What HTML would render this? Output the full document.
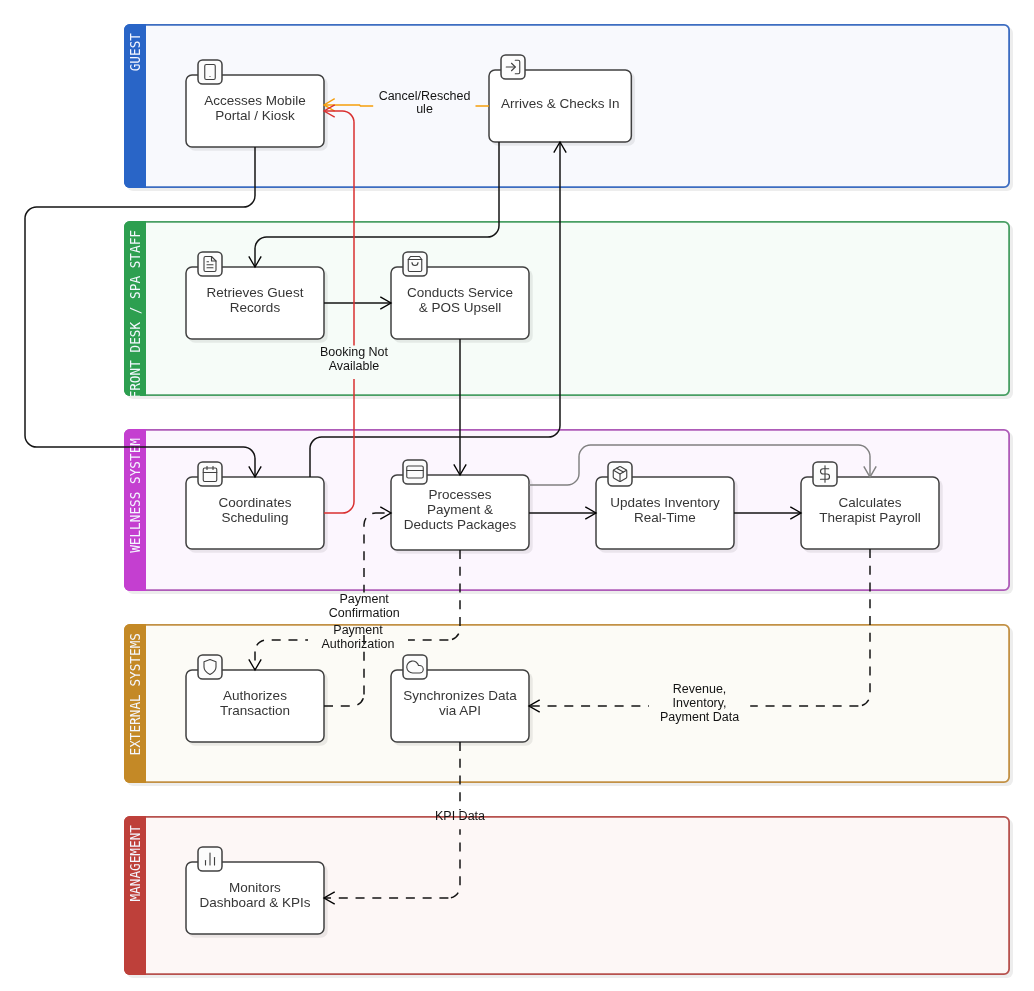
<!DOCTYPE html>
<html lang="en"><head><meta charset="utf-8"><title>Spa Wellness Workflow</title>
<style>
html,body{margin:0;padding:0;background:#fff;}
body{width:1034px;height:991px;overflow:hidden;}
svg{display:block;will-change:transform;}
.nt{font-family:"Liberation Sans",Arial,Helvetica,sans-serif;font-size:13.5px;fill:#363636;text-anchor:middle;}
.el{font-family:"Liberation Sans",Arial,Helvetica,sans-serif;font-size:12.5px;fill:#131313;text-anchor:middle;}
.lh{font-family:"DejaVu Sans Mono","Liberation Mono",monospace;font-size:14.2px;fill:#f4f7ff;text-anchor:end;}
.e{fill:none;stroke:#141414;stroke-width:1.5;}
.d{stroke-dasharray:9 7.77;}
</style></head><body>
<svg width="1034" height="991" viewBox="0 0 1034 991">
<defs>
<clipPath id="lc0"><rect x="124" y="24" width="22" height="164"/></clipPath>
<clipPath id="lc1"><rect x="124" y="221" width="22" height="175"/></clipPath>
<clipPath id="lc2"><rect x="124" y="429" width="22" height="162"/></clipPath>
<clipPath id="lc3"><rect x="124" y="624" width="22" height="159"/></clipPath>
<clipPath id="lc4"><rect x="124" y="816" width="22" height="159"/></clipPath>
</defs>
<g>
<rect x="127" y="27" width="886" height="164" rx="6" fill="#000" fill-opacity="0.07"/>
<rect x="124.9" y="24.9" width="884.2" height="162.2" rx="5.1" fill="#f8f9fd" stroke="#3d6dc1" stroke-width="1.8"/>
<path d="M146,24 H130 A6,6 0 0 0 124,30 V182 A6,6 0 0 0 130,188 H146 Z" fill="#2965c7"/>
</g>
<g>
<rect x="127" y="224" width="886" height="175" rx="6" fill="#000" fill-opacity="0.07"/>
<rect x="124.9" y="221.9" width="884.2" height="173.2" rx="5.1" fill="#f6fcf8" stroke="#499f64" stroke-width="1.8"/>
<path d="M146,221 H130 A6,6 0 0 0 124,227 V390 A6,6 0 0 0 130,396 H146 Z" fill="#2d9f50"/>
</g>
<g>
<rect x="127" y="432" width="886" height="162" rx="6" fill="#000" fill-opacity="0.07"/>
<rect x="124.9" y="429.9" width="884.2" height="160.2" rx="5.1" fill="#fcf6fe" stroke="#ae5bb8" stroke-width="1.8"/>
<path d="M146,429 H130 A6,6 0 0 0 124,435 V585 A6,6 0 0 0 130,591 H146 Z" fill="#c43fd0"/>
</g>
<g>
<rect x="127" y="627" width="886" height="159" rx="6" fill="#000" fill-opacity="0.07"/>
<rect x="124.9" y="624.9" width="884.2" height="157.2" rx="5.1" fill="#fcfbf6" stroke="#c29145" stroke-width="1.8"/>
<path d="M146,624 H130 A6,6 0 0 0 124,630 V777 A6,6 0 0 0 130,783 H146 Z" fill="#c48926"/>
</g>
<g>
<rect x="127" y="819" width="886" height="159" rx="6" fill="#000" fill-opacity="0.07"/>
<rect x="124.9" y="816.9" width="884.2" height="157.2" rx="5.1" fill="#fdf7f6" stroke="#b7524e" stroke-width="1.8"/>
<path d="M146,816 H130 A6,6 0 0 0 124,822 V969 A6,6 0 0 0 130,975 H146 Z" fill="#be403a"/>
</g>
<g clip-path="url(#lc0)"><text class="lh" transform="translate(140.3,33) rotate(-90) scale(0.897,1)">GUEST</text></g>
<g clip-path="url(#lc1)"><text class="lh" transform="translate(140.3,230) rotate(-90) scale(0.897,1)">FRONT DESK / SPA STAFF</text></g>
<g clip-path="url(#lc2)"><text class="lh" transform="translate(140.3,438) rotate(-90) scale(0.897,1)">WELLNESS SYSTEM</text></g>
<g clip-path="url(#lc3)"><text class="lh" transform="translate(140.3,633) rotate(-90) scale(0.897,1)">EXTERNAL SYSTEMS</text></g>
<g clip-path="url(#lc4)"><text class="lh" transform="translate(140.3,825) rotate(-90) scale(0.897,1)">MANAGEMENT</text></g>
<g>
<rect x="188.25" y="77.25" width="139.5" height="73.5" rx="6.75" fill="#000" fill-opacity="0.07"/>
<rect x="186" y="75" width="138" height="72" rx="6" fill="#fff" stroke="#404040" stroke-width="1.5"/>
<rect x="198" y="60" width="24" height="24" rx="4.6" fill="#fcfcfc" stroke="#404040" stroke-width="1.5"/>
<g transform="translate(201.00,63.00) scale(0.75)" fill="none" stroke="#404040" stroke-width="1.5" stroke-linecap="round" stroke-linejoin="round"><rect x="5" y="2" width="14" height="20" rx="2" ry="2"/><path d="M12 18h.01"/></g>
<text class="nt" x="255.00" y="105.33">Accesses Mobile</text>
<text class="nt" x="255.00" y="120.33">Portal / Kiosk</text>
</g>
<g>
<rect x="491.25" y="72.25" width="143.85" height="73.5" rx="6.75" fill="#000" fill-opacity="0.07"/>
<rect x="489" y="70" width="142.35" height="72" rx="6" fill="#fff" stroke="#404040" stroke-width="1.5"/>
<rect x="501" y="55" width="24" height="24" rx="4.6" fill="#fcfcfc" stroke="#404040" stroke-width="1.5"/>
<g transform="translate(504.00,58.00) scale(0.75)" fill="none" stroke="#404040" stroke-width="1.5" stroke-linecap="round" stroke-linejoin="round"><path d="M15 3h4a2 2 0 0 1 2 2v14a2 2 0 0 1-2 2h-4"/><path d="M10 17l5-5-5-5"/><path d="M15 12H3"/></g>
<text class="nt" x="560.17" y="107.83">Arrives &amp; Checks In</text>
</g>
<g>
<rect x="188.25" y="269.25" width="139.5" height="73.5" rx="6.75" fill="#000" fill-opacity="0.07"/>
<rect x="186" y="267" width="138" height="72" rx="6" fill="#fff" stroke="#404040" stroke-width="1.5"/>
<rect x="198" y="252" width="24" height="24" rx="4.6" fill="#fcfcfc" stroke="#404040" stroke-width="1.5"/>
<g transform="translate(201.00,255.00) scale(0.75)" fill="none" stroke="#404040" stroke-width="1.5" stroke-linecap="round" stroke-linejoin="round"><path d="M14 2H6a2 2 0 0 0-2 2v16a2 2 0 0 0 2 2h12a2 2 0 0 0 2-2V8z"/><path d="M14 2v6h6"/><path d="M16 13H8"/><path d="M16 17H8"/><path d="M10 9H8"/></g>
<text class="nt" x="255.00" y="297.33">Retrieves Guest</text>
<text class="nt" x="255.00" y="312.33">Records</text>
</g>
<g>
<rect x="393.25" y="269.25" width="139.5" height="73.5" rx="6.75" fill="#000" fill-opacity="0.07"/>
<rect x="391" y="267" width="138" height="72" rx="6" fill="#fff" stroke="#404040" stroke-width="1.5"/>
<rect x="403" y="252" width="24" height="24" rx="4.6" fill="#fcfcfc" stroke="#404040" stroke-width="1.5"/>
<g transform="translate(406.00,255.00) scale(0.75)" fill="none" stroke="#404040" stroke-width="1.5" stroke-linecap="round" stroke-linejoin="round"><path d="M6 2L3 6v14a2 2 0 0 0 2 2h14a2 2 0 0 0 2-2V6l-3-4z"/><path d="M3 6h18"/><path d="M16 10a4 4 0 0 1-8 0"/></g>
<text class="nt" x="460.00" y="297.33">Conducts Service</text>
<text class="nt" x="460.00" y="312.33">&amp; POS Upsell</text>
</g>
<g>
<rect x="188.25" y="479.25" width="139.5" height="73.5" rx="6.75" fill="#000" fill-opacity="0.07"/>
<rect x="186" y="477" width="138" height="72" rx="6" fill="#fff" stroke="#404040" stroke-width="1.5"/>
<rect x="198" y="462" width="24" height="24" rx="4.6" fill="#fcfcfc" stroke="#404040" stroke-width="1.5"/>
<g transform="translate(201.00,465.00) scale(0.75)" fill="none" stroke="#404040" stroke-width="1.5" stroke-linecap="round" stroke-linejoin="round"><rect x="3" y="4" width="18" height="18" rx="2" ry="2"/><path d="M16 2v4"/><path d="M8 2v4"/><path d="M3 10h18"/></g>
<text class="nt" x="255.00" y="507.33">Coordinates</text>
<text class="nt" x="255.00" y="522.33">Scheduling</text>
</g>
<g>
<rect x="393.25" y="477.25" width="139.5" height="76.5" rx="6.75" fill="#000" fill-opacity="0.07"/>
<rect x="391" y="475" width="138" height="75" rx="6" fill="#fff" stroke="#404040" stroke-width="1.5"/>
<rect x="403" y="460" width="24" height="24" rx="4.6" fill="#fcfcfc" stroke="#404040" stroke-width="1.5"/>
<g transform="translate(406.00,463.00) scale(0.75)" fill="none" stroke="#404040" stroke-width="1.5" stroke-linecap="round" stroke-linejoin="round"><rect x="1" y="4" width="22" height="16" rx="2" ry="2"/><path d="M1 10h22"/></g>
<text class="nt" x="460.00" y="499.33">Processes</text>
<text class="nt" x="460.00" y="514.33">Payment &amp;</text>
<text class="nt" x="460.00" y="529.33">Deducts Packages</text>
</g>
<g>
<rect x="598.25" y="479.25" width="139.5" height="73.5" rx="6.75" fill="#000" fill-opacity="0.07"/>
<rect x="596" y="477" width="138" height="72" rx="6" fill="#fff" stroke="#404040" stroke-width="1.5"/>
<rect x="608" y="462" width="24" height="24" rx="4.6" fill="#fcfcfc" stroke="#404040" stroke-width="1.5"/>
<g transform="translate(611.00,465.00) scale(0.75)" fill="none" stroke="#404040" stroke-width="1.5" stroke-linecap="round" stroke-linejoin="round"><path d="M16.5 9.4l-9-5.19"/><path d="M21 16V8a2 2 0 0 0-1-1.73l-7-4a2 2 0 0 0-2 0l-7 4A2 2 0 0 0 3 8v8a2 2 0 0 0 1 1.73l7 4a2 2 0 0 0 2 0l7-4A2 2 0 0 0 21 16z"/><path d="M3.27 6.96L12 12.01l8.73-5.05"/><path d="M12 22.08V12"/></g>
<text class="nt" x="665.00" y="507.33">Updates Inventory</text>
<text class="nt" x="665.00" y="522.33">Real-Time</text>
</g>
<g>
<rect x="803.25" y="479.25" width="139.5" height="73.5" rx="6.75" fill="#000" fill-opacity="0.07"/>
<rect x="801" y="477" width="138" height="72" rx="6" fill="#fff" stroke="#404040" stroke-width="1.5"/>
<rect x="813" y="462" width="24" height="24" rx="4.6" fill="#fcfcfc" stroke="#404040" stroke-width="1.5"/>
<g transform="translate(816.00,465.00) scale(0.75)" fill="none" stroke="#404040" stroke-width="1.5" stroke-linecap="round" stroke-linejoin="round"><path d="M12 1v22"/><path d="M17 5H9.5a3.5 3.5 0 0 0 0 7h5a3.5 3.5 0 0 1 0 7H6"/></g>
<text class="nt" x="870.00" y="507.33">Calculates</text>
<text class="nt" x="870.00" y="522.33">Therapist Payroll</text>
</g>
<g>
<rect x="188.25" y="672.25" width="139.5" height="73.5" rx="6.75" fill="#000" fill-opacity="0.07"/>
<rect x="186" y="670" width="138" height="72" rx="6" fill="#fff" stroke="#404040" stroke-width="1.5"/>
<rect x="198" y="655" width="24" height="24" rx="4.6" fill="#fcfcfc" stroke="#404040" stroke-width="1.5"/>
<g transform="translate(201.00,658.00) scale(0.75)" fill="none" stroke="#404040" stroke-width="1.5" stroke-linecap="round" stroke-linejoin="round"><path d="M12 22s8-4 8-10V5l-8-3-8 3v7c0 6 8 10 8 10z"/></g>
<text class="nt" x="255.00" y="700.33">Authorizes</text>
<text class="nt" x="255.00" y="715.33">Transaction</text>
</g>
<g>
<rect x="393.25" y="672.25" width="139.5" height="73.5" rx="6.75" fill="#000" fill-opacity="0.07"/>
<rect x="391" y="670" width="138" height="72" rx="6" fill="#fff" stroke="#404040" stroke-width="1.5"/>
<rect x="403" y="655" width="24" height="24" rx="4.6" fill="#fcfcfc" stroke="#404040" stroke-width="1.5"/>
<g transform="translate(406.00,658.00) scale(0.75)" fill="none" stroke="#404040" stroke-width="1.5" stroke-linecap="round" stroke-linejoin="round"><path d="M18 10h-1.26A8 8 0 1 0 9 20h9a5 5 0 0 0 0-10z"/></g>
<text class="nt" x="460.00" y="700.33">Synchronizes Data</text>
<text class="nt" x="460.00" y="715.33">via API</text>
</g>
<g>
<rect x="188.25" y="864.25" width="139.5" height="73.5" rx="6.75" fill="#000" fill-opacity="0.07"/>
<rect x="186" y="862" width="138" height="72" rx="6" fill="#fff" stroke="#404040" stroke-width="1.5"/>
<rect x="198" y="847" width="24" height="24" rx="4.6" fill="#fcfcfc" stroke="#404040" stroke-width="1.5"/>
<g transform="translate(201.00,850.00) scale(0.75)" fill="none" stroke="#404040" stroke-width="1.5" stroke-linecap="round" stroke-linejoin="round"><path d="M18 20V10"/><path d="M12 20V4"/><path d="M6 20v-6"/></g>
<text class="nt" x="255.00" y="892.33">Monitors</text>
<text class="nt" x="255.00" y="907.33">Dashboard &amp; KPIs</text>
</g>
<path class="e" d="M255,147 L255.00,195.40 A11.6,11.6 0 0 1 243.40,207.00 L36.60,207.00 A11.6,11.6 0 0 0 25.00,218.60 L25.00,435.40 A11.6,11.6 0 0 0 36.60,447.00 L243.40,447.00 A11.6,11.6 0 0 1 255.00,458.60 L255,477" stroke="#141414"/>
<polyline points="248.80,466.30 255.00,477.00 261.20,466.30" fill="none" stroke="#000" stroke-width="1.35" stroke-linejoin="miter" stroke-miterlimit="10"/>
<path class="e" d="M499,142 L499.00,225.40 A11.6,11.6 0 0 1 487.40,237.00 L266.60,237.00 A11.6,11.6 0 0 0 255.00,248.60 L255,267" stroke="#141414"/>
<polyline points="248.80,256.30 255.00,267.00 261.20,256.30" fill="none" stroke="#000" stroke-width="1.35" stroke-linejoin="miter" stroke-miterlimit="10"/>
<path class="e" d="M324,303 H391" stroke="#141414"/>
<polyline points="380.30,296.80 391.00,303.00 380.30,309.20" fill="none" stroke="#000" stroke-width="1.35" stroke-linejoin="miter" stroke-miterlimit="10"/>
<path class="e" d="M460,339 V475" stroke="#141414"/>
<polyline points="453.80,464.30 460.00,475.00 466.20,464.30" fill="none" stroke="#000" stroke-width="1.35" stroke-linejoin="miter" stroke-miterlimit="10"/>
<path class="e" d="M310,477 L310.00,448.60 A11.6,11.6 0 0 1 321.60,437.00 L548.40,437.00 A11.6,11.6 0 0 0 560.00,425.40 L560,142" stroke="#141414"/>
<polyline points="553.80,152.70 560.00,142.00 566.20,152.70" fill="none" stroke="#000" stroke-width="1.35" stroke-linejoin="miter" stroke-miterlimit="10"/>
<path class="e" d="M529,513 H596" stroke="#141414"/>
<polyline points="585.30,506.80 596.00,513.00 585.30,519.20" fill="none" stroke="#000" stroke-width="1.35" stroke-linejoin="miter" stroke-miterlimit="10"/>
<path class="e" d="M734,513 H801" stroke="#141414"/>
<polyline points="790.30,506.80 801.00,513.00 790.30,519.20" fill="none" stroke="#000" stroke-width="1.35" stroke-linejoin="miter" stroke-miterlimit="10"/>
<path d="M529,485 L567.40,485.00 A11.6,11.6 0 0 0 579.00,473.40 L579.00,456.60 A11.6,11.6 0 0 1 590.60,445.00 L858.40,445.00 A11.6,11.6 0 0 1 870.00,456.60 L870,477" fill="none" stroke="#808080" stroke-width="1.45"/>
<polyline points="863.80,466.30 870.00,477.00 876.20,466.30" fill="none" stroke="#808080" stroke-width="1.45" stroke-linejoin="miter" stroke-miterlimit="10"/>
<clipPath id="co"><path d="M0,0H373.2V991H0Z M475.5,0H1034V991H475.5Z"/></clipPath>
<path d="M489,106 H360.5 L359.5,104.9 H324" fill="none" stroke="#f59e0b" stroke-width="1.5" clip-path="url(#co)"/>
<polyline points="334.70,98.70 324.00,104.90 334.70,111.10" fill="none" stroke="#f59e0b" stroke-width="1.35" stroke-linejoin="miter" stroke-miterlimit="10"/>
<clipPath id="cr"><path d="M0,0H1034V345.5H0Z M0,379H1034V991H0Z"/></clipPath>
<path d="M324,513 L342.40,513.00 A11.6,11.6 0 0 0 354.00,501.40 L354.00,122.60 A11.6,11.6 0 0 0 342.40,111.00 L324,111" fill="none" stroke="#d93030" stroke-width="1.5" clip-path="url(#cr)"/>
<polyline points="334.70,104.80 324.00,111.00 334.70,117.20" fill="none" stroke="#d93030" stroke-width="1.35" stroke-linejoin="miter" stroke-miterlimit="10"/>
<clipPath id="c11"><path d="M0,0H308V991H0Z M408,0H1034V991H408Z"/></clipPath>
<path class="e d" d="M460,550 L460.00,628.40 A11.6,11.6 0 0 1 448.40,640.00 M448.40,640.00 L266.60,640.00 A11.6,11.6 0 0 0 255.00,651.60 M255.00,651.60 L255,670" clip-path="url(#c11)"/>
<polyline points="248.80,659.30 255.00,670.00 261.20,659.30" fill="none" stroke="#000" stroke-width="1.35" stroke-linejoin="miter" stroke-miterlimit="10"/>
<clipPath id="c12"><path d="M0,0H1034V592.4H0Z M0,628H1034V991H0Z"/></clipPath>
<path class="e d" d="M324,706 L352.40,706.00 A11.6,11.6 0 0 0 364.00,694.40 M364.00,694.40 L364.00,524.60 A11.6,11.6 0 0 1 375.60,513.00 M375.60,513.00 L391,513" clip-path="url(#c12)"/>
<polyline points="380.30,506.80 391.00,513.00 380.30,519.20" fill="none" stroke="#000" stroke-width="1.35" stroke-linejoin="miter" stroke-miterlimit="10"/>
<clipPath id="c13"><path d="M0,0H649V991H0Z M750.2,0H1034V991H750.2Z"/></clipPath>
<path class="e d" d="M870,549 L870.00,694.40 A11.6,11.6 0 0 1 858.40,706.00 M858.40,706.00 L529,706" clip-path="url(#c13)"/>
<polyline points="539.70,699.80 529.00,706.00 539.70,712.20" fill="none" stroke="#000" stroke-width="1.35" stroke-linejoin="miter" stroke-miterlimit="10"/>
<clipPath id="c14"><path d="M0,0H1034V810.2H0Z M0,829.3H1034V991H0Z"/></clipPath>
<path class="e d" d="M460,742 L460.00,886.40 A11.6,11.6 0 0 1 448.40,898.00 M448.40,898.00 L324,898" clip-path="url(#c14)"/>
<polyline points="334.70,891.80 324.00,898.00 334.70,904.20" fill="none" stroke="#000" stroke-width="1.35" stroke-linejoin="miter" stroke-miterlimit="10"/>
<text class="el" x="424.5" y="99.50">Cancel/Resched</text>
<text class="el" x="424.5" y="113.30">ule</text>
<text class="el" x="354" y="355.60">Booking Not</text>
<text class="el" x="354" y="369.80">Available</text>
<text class="el" x="364.2" y="602.90">Payment</text>
<text class="el" x="364.2" y="616.90">Confirmation</text>
<text class="el" x="358" y="633.50">Payment</text>
<text class="el" x="358" y="647.50">Authorization</text>
<text class="el" x="699.6" y="692.90">Revenue,</text>
<text class="el" x="699.6" y="706.75">Inventory,</text>
<text class="el" x="699.6" y="720.60">Payment Data</text>
<text class="el" x="460" y="820.10">KPI Data</text>
</svg></body></html>
